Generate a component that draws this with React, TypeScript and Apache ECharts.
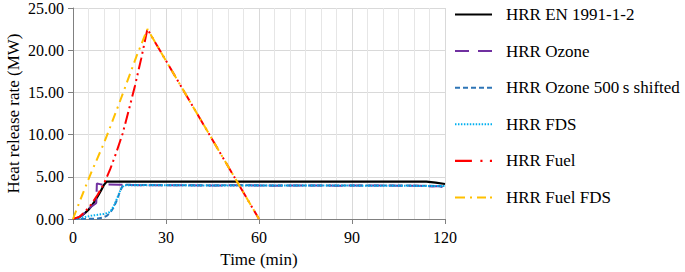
import React, { useEffect, useRef } from "react";
import * as echarts from "echarts";

const seriesNames = [
  "HRR EN 1991-1-2",
  "HRR Ozone",
  "HRR Ozone 500\u2009s shifted",
  "HRR FDS",
  "HRR Fuel",
  "HRR Fuel FDS",
];

// [time (min), HRR (MW)]
const hrrEN: number[][] = [
  [0, 0], [1, 0.05], [2, 0.2], [3, 0.45], [4, 0.75], [5, 1.1], [6, 1.55], [7, 2.1],
  [8, 2.7], [9, 3.35], [10, 4.05], [10.8, 4.42], [114, 4.42], [117, 4.3], [120, 4.15],
];
const hrrOzone: number[][] = [
  [0, 0], [1, 0.05], [2, 0.2], [3, 0.45], [4, 0.8], [5, 1.15], [6, 1.5], [7, 1.75],
  [7.5, 1.9], [7.7, 4.2], [9, 4.1], [15, 4.05], [25, 4.0], [35, 4.0], [45, 3.97],
  [55, 4.0], [65, 3.95], [75, 3.98], [85, 3.95], [95, 3.97], [105, 3.95], [112, 3.93],
  [116, 3.85], [118, 3.9], [120, 3.7],
];
const hrrOzoneShifted: number[][] = [
  [0, 0], [4, 0.02], [8, 0.05], [10, 0.2], [11, 0.4], [12, 0.75], [13, 1.3],
  [14, 2.1], [15, 3.1], [16, 3.95], [17, 4.05], [25, 4.02], [35, 4.0], [45, 3.98],
  [55, 4.0], [65, 3.97], [75, 3.98], [85, 3.96], [95, 3.98], [105, 3.96], [115, 3.95],
  [120, 3.85],
];
const hrrFDS: number[][] = [
  [0, 0], [2, 0.1], [4, 0.25], [6, 0.4], [8, 0.5], [10, 0.6], [11.5, 0.75],
  [12.5, 1.1], [13.5, 1.8], [14.5, 2.7], [15.5, 3.6], [16.5, 4.0], [25, 4.0],
  [40, 3.98], [60, 3.97], [80, 3.96], [100, 3.95], [120, 3.9],
];
const hrrFuel: number[][] = [
  [0, 0], [2, 0.25], [4, 0.9], [6, 1.8], [8, 2.9], [10, 4.2], [12, 5.9], [14, 7.9],
  [16, 10.1], [18, 12.9], [20, 15.8], [22, 19.0], [24, 22.5], [60, 0],
];
const hrrFuelFDS: number[][] = [
  [0, 0], [0.5, 0.5], [4, 3.8], [6, 5.6], [10, 9.0], [12, 10.9], [15, 13.8],
  [17.5, 16.3], [20.5, 19.3], [24, 22.5], [60, 0],
];

const xTicks = [0, 30, 60, 90, 120];
const yTicks = [0, 5, 10, 15, 20, 25];
const yTickLabels = yTicks.map((v) => v.toFixed(2));

const FONT = "Liberation Serif";
const NUM_FONT = "Liberation Serif, DejaVu Serif, serif";

// legend icon shapes (x-ranges of dash segments in a 37px wide, 2px tall strip)
const rectsPath = (segs: number[][]) =>
  "path://" + segs.map(([a, b]) => `M${a},0H${b}V2H${a}Z`).join(" ");
const dotSegs: number[][] = [];
for (let i = 0; i <= 12; i++) dotSegs.push([i * 3, i * 3 + 1.5]);
const legendIcons = [
  rectsPath([[0, 37]]),
  rectsPath([[0, 14], [23, 37]]),
  rectsPath([[0, 5], [8, 13], [16, 21], [24, 29], [32, 37]]),
  rectsPath(dotSegs),
  rectsPath([[0, 16], [24, 26], [33, 35]]),
  rectsPath([[0, 10], [15, 17], [22, 31], [35, 37]]),
];

export default function App() {
  const ref = useRef<HTMLDivElement>(null);

  useEffect(() => {
    if (!ref.current) return;
    const chart = echarts.init(ref.current, undefined, { renderer: "svg" });
    const mk = (name: string, data: number[][], color: string, dash: any, width = 2) => ({
      name,
      type: "line",
      data,
      showSymbol: false,
      symbol: "none",
      lineStyle: { color, width, type: dash },
      itemStyle: { color },
      z: 3,
    });
    chart.setOption({
      animation: false,
      textStyle: { fontFamily: FONT },
      grid: { left: 73, right: 240, top: 8, bottom: 53, containLabel: false, outerBoundsMode: "none" },
      legend: {
        orient: "vertical",
        left: 450,
        top: 1,
        itemWidth: 37,
        itemHeight: 18,
        itemGap: 19.6,
        symbolKeepAspect: true,
        textStyle: { fontFamily: FONT, fontSize: 17, color: "#000", padding: [0, 0, 0, 9] },
        data: seriesNames.map((n, i) => ({ name: n, icon: legendIcons[i] })),
      },
      xAxis: {
        type: "value",
        min: xTicks[0],
        max: xTicks[xTicks.length - 1],
        interval: 30,
        axisLine: { show: true, onZero: false, lineStyle: { color: "#808080", width: 1 } },
        axisTick: { show: true, length: 5, lineStyle: { color: "#808080" } },
        axisLabel: { show: false },
        splitLine: { show: true, lineStyle: { color: "#d9d9d9", width: 1 } },
        minorTick: { show: false, splitNumber: 6 },
        minorSplitLine: { show: true, lineStyle: { color: "#e6e6e6", width: 1 } },
        name: "Time (min)",
        nameLocation: "middle",
        nameGap: 32,
        nameTextStyle: { fontFamily: FONT, fontSize: 17, color: "#000" },
      },
      yAxis: {
        type: "value",
        min: yTicks[0],
        max: yTicks[yTicks.length - 1],
        interval: 5,
        axisLine: { show: true, lineStyle: { color: "#808080", width: 1 } },
        axisTick: { show: true, length: 5, lineStyle: { color: "#808080" } },
        axisLabel: { show: false },
        splitLine: { show: true, lineStyle: { color: "#d9d9d9", width: 1 } },
        name: "Heat release rate (MW)",
        nameLocation: "middle",
        nameGap: 51,
        nameTextStyle: { fontFamily: FONT, fontSize: 17, color: "#000" },
      },
      series: [
        mk(seriesNames[0], hrrEN, "#000000", "solid", 2.2),
        mk(seriesNames[1], hrrOzone, "#7030A0", [14, 6], 2),
        mk(seriesNames[2], hrrOzoneShifted, "#2E75B6", [5, 3], 2),
        mk(seriesNames[3], hrrFDS, "#00B0F0", [1.5, 1.5], 2),
        mk(seriesNames[4], hrrFuel, "#FF0000", [12, 4, 2, 4, 2, 4], 2),
        mk(seriesNames[5], hrrFuelFDS, "#FFC000", [9, 5, 2, 5], 2),
      ],
    });

    // tick labels placed through the axes' own scales
    const graphics: any[] = [];
    yTicks.forEach((v, i) => {
      const [px, py] = chart.convertToPixel({ gridIndex: 0 }, [xTicks[0], v]) as number[];
      graphics.push({
        type: "text",
        x: px - 9,
        y: py,
        style: {
          text: yTickLabels[i],
          fontFamily: NUM_FONT,
          fontSize: 16,
          fill: "#000",
          align: "right",
          verticalAlign: "middle",
        },
      });
    });
    xTicks.forEach((v) => {
      const [px, py] = chart.convertToPixel({ gridIndex: 0 }, [v, yTicks[0]]) as number[];
      graphics.push({
        type: "text",
        x: px,
        y: py + 10,
        style: {
          text: String(v),
          fontFamily: NUM_FONT,
          fontSize: 16,
          fill: "#000",
          align: "center",
          verticalAlign: "top",
        },
      });
    });
    chart.setOption({ graphic: graphics });

    return () => chart.dispose();
  }, []);

  return <div ref={ref} style={{ width: 685, height: 272, position: "absolute", left: 0, top: 0, background: "#fff" }} />;
}
